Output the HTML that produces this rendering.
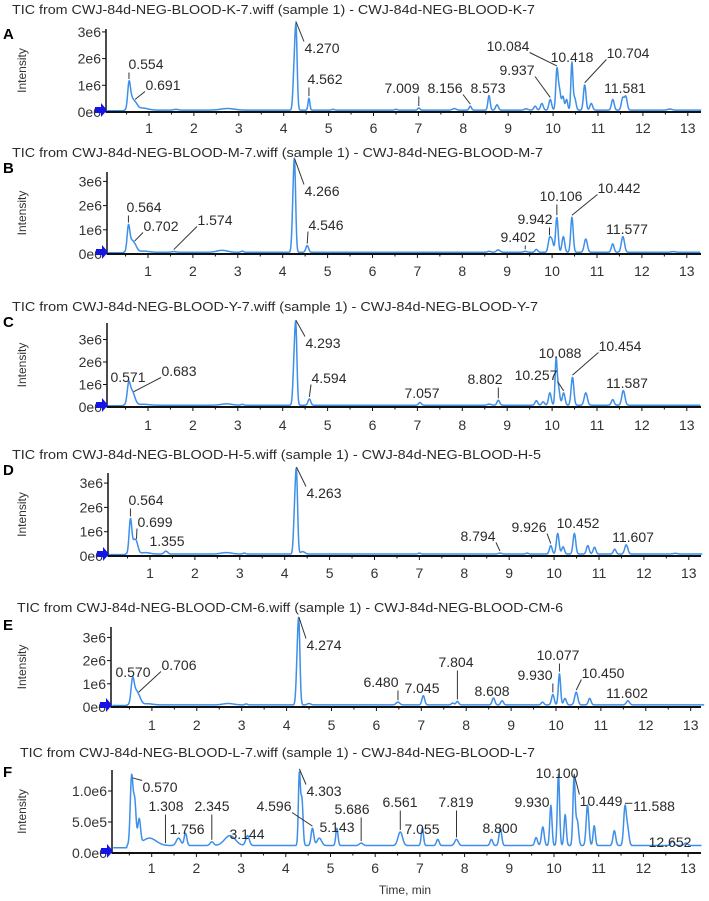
<!DOCTYPE html>
<html><head><meta charset="utf-8"><title>TIC chromatograms</title>
<style>
html,body{margin:0;padding:0;background:#fff;}
svg{display:block;font-family:"Liberation Sans",Arial,sans-serif;}
</style></head>
<body>
<svg id="chart" width="709" height="901" viewBox="0 0 709 901" xmlns="http://www.w3.org/2000/svg"></svg>
<script>
// ---------- DATA ----------
const panelIds = ["A","B","C","D","E","F"];
const sampleNames = ["K-7","M-7","Y-7","H-5","CM-6","L-7"];
const xTickValues = [1,2,3,4,5,6,7,8,9,10,11,12,13];
const yTickValuesStd = [0,1,2,3];
const yTickLabelsStd = ["0e0","1e6","2e6","3e6"];
const yTickValuesF = [0,0.5,1.0];
const yTickLabelsF = ["0.0e0","5.0e5","1.0e6"];
const baselineLevels = [0.07,0.07,0.08,0.08,0.09,0.12];
// peaks: [retention time (min), height (1e6 counts), width sigma (min)]
const peaksA = [[0.554,0.95,0.03],[0.61,0.35,0.04],[0.691,0.25,0.05],[0.85,0.08,0.12],[1.6,0.03,0.05],[2.75,0.06,0.15],[4.23,1.3,0.025],[4.275,2.95,0.025],[4.562,0.45,0.02],[5.1,0.03,0.03],[6.5,0.03,0.03],[7.009,0.08,0.025],[7.8,0.06,0.04],[8.156,0.15,0.025],[8.573,0.55,0.025],[8.75,0.2,0.03],[9.4,0.05,0.04],[9.6,0.15,0.03],[9.75,0.25,0.03],[9.937,0.4,0.03],[10.084,1.45,0.025],[10.14,0.75,0.03],[10.22,0.5,0.025],[10.3,0.4,0.025],[10.418,1.75,0.022],[10.48,0.45,0.03],[10.704,0.95,0.028],[10.85,0.25,0.03],[11.33,0.4,0.03],[11.55,0.45,0.03],[11.62,0.5,0.03],[12.6,0.04,0.05]];
const peaksB = [[0.564,1.05,0.03],[0.63,0.35,0.04],[0.702,0.3,0.05],[0.9,0.05,0.12],[1.574,0.03,0.05],[2.65,0.08,0.12],[3.1,0.05,0.03],[4.23,1.5,0.025],[4.266,3.25,0.025],[4.546,0.28,0.03],[8.6,0.04,0.04],[8.8,0.1,0.04],[9.402,0.04,0.04],[9.65,0.12,0.03],[9.942,0.55,0.03],[10.0,0.45,0.03],[10.106,1.45,0.028],[10.25,0.65,0.03],[10.442,1.45,0.028],[10.75,0.55,0.035],[11.35,0.35,0.03],[11.577,0.65,0.035],[12.7,0.03,0.05]];
const peaksC = [[0.571,0.95,0.035],[0.64,0.35,0.04],[0.683,0.3,0.05],[0.9,0.04,0.12],[2.75,0.06,0.12],[3.1,0.04,0.03],[4.25,1.5,0.025],[4.293,3.35,0.025],[4.594,0.28,0.03],[7.057,0.12,0.03],[8.6,0.05,0.04],[8.802,0.22,0.03],[9.65,0.2,0.03],[9.8,0.15,0.03],[9.95,0.55,0.03],[10.088,1.95,0.022],[10.14,0.8,0.03],[10.257,0.55,0.03],[10.454,1.25,0.03],[10.75,0.55,0.035],[11.35,0.25,0.03],[11.587,0.65,0.035]];
const peaksD = [[0.564,1.4,0.03],[0.64,0.4,0.04],[0.699,0.4,0.04],[0.9,0.06,0.1],[1.355,0.12,0.04],[2.7,0.06,0.12],[3.1,0.04,0.03],[4.22,1.5,0.025],[4.263,3.15,0.025],[4.4,0.1,0.05],[7.0,0.04,0.03],[8.794,0.04,0.04],[9.4,0.04,0.03],[9.926,0.35,0.03],[10.08,0.85,0.03],[10.2,0.3,0.03],[10.452,0.85,0.03],[10.75,0.35,0.03],[10.9,0.28,0.03],[11.35,0.2,0.03],[11.607,0.38,0.035],[12.7,0.03,0.05]];
const peaksE = [[0.57,1.1,0.035],[0.64,0.4,0.04],[0.706,0.35,0.05],[0.9,0.05,0.12],[2.7,0.06,0.12],[3.1,0.04,0.03],[4.235,1.5,0.025],[4.274,3.25,0.025],[4.5,0.06,0.04],[6.48,0.12,0.04],[7.045,0.4,0.03],[7.7,0.08,0.03],[7.804,0.15,0.03],[8.608,0.3,0.03],[8.8,0.18,0.03],[9.7,0.12,0.03],[9.93,0.45,0.03],[10.077,1.35,0.025],[10.2,0.28,0.03],[10.45,0.55,0.035],[10.75,0.28,0.03],[11.602,0.18,0.035]];
const peaksF = [[0.55,1.1,0.03],[0.62,0.7,0.03],[0.72,0.4,0.03],[0.95,0.12,0.15],[1.6,0.12,0.05],[1.756,0.2,0.03],[2.345,0.06,0.04],[2.75,0.16,0.12],[3.144,0.16,0.04],[4.303,1.15,0.022],[4.36,0.75,0.025],[4.596,0.28,0.03],[4.75,0.12,0.05],[5.143,0.28,0.025],[5.686,0.04,0.04],[6.561,0.22,0.05],[7.055,0.28,0.025],[7.4,0.1,0.03],[7.819,0.1,0.04],[8.6,0.1,0.03],[8.8,0.28,0.03],[9.6,0.13,0.03],[9.75,0.3,0.03],[9.93,0.65,0.025],[10.1,1.15,0.025],[10.25,0.5,0.025],[10.449,1.1,0.025],[10.52,0.4,0.03],[10.75,0.65,0.03],[10.9,0.32,0.025],[11.35,0.24,0.03],[11.588,0.62,0.03],[11.65,0.25,0.03],[12.652,0.07,0.04],[12.95,0.04,0.04]];
const allPeaks = [peaksA,peaksB,peaksC,peaksD,peaksE,peaksF];
// annotations: [time, text]
const annA = [[0.554,"0.554"],[0.691,"0.691"],[4.270,"4.270"],[4.562,"4.562"],[7.009,"7.009"],[8.156,"8.156"],[8.573,"8.573"],[9.937,"9.937"],[10.084,"10.084"],[10.418,"10.418"],[10.704,"10.704"],[11.581,"11.581"]];
const annB = [[0.564,"0.564"],[0.702,"0.702"],[1.574,"1.574"],[4.266,"4.266"],[4.546,"4.546"],[9.402,"9.402"],[9.942,"9.942"],[10.106,"10.106"],[10.442,"10.442"],[11.577,"11.577"]];
const annC = [[0.571,"0.571"],[0.683,"0.683"],[4.293,"4.293"],[4.594,"4.594"],[7.057,"7.057"],[8.802,"8.802"],[10.257,"10.257"],[10.088,"10.088"],[10.454,"10.454"],[11.587,"11.587"]];
const annD = [[0.564,"0.564"],[0.699,"0.699"],[1.355,"1.355"],[4.263,"4.263"],[8.794,"8.794"],[9.926,"9.926"],[10.452,"10.452"],[11.607,"11.607"]];
const annE = [[0.570,"0.570"],[0.706,"0.706"],[4.274,"4.274"],[6.480,"6.480"],[7.045,"7.045"],[7.804,"7.804"],[8.608,"8.608"],[9.930,"9.930"],[10.077,"10.077"],[10.450,"10.450"],[11.602,"11.602"]];
const annF = [[0.570,"0.570"],[1.308,"1.308"],[1.756,"1.756"],[2.345,"2.345"],[3.144,"3.144"],[4.596,"4.596"],[4.303,"4.303"],[5.143,"5.143"],[5.686,"5.686"],[6.561,"6.561"],[7.055,"7.055"],[7.819,"7.819"],[8.800,"8.800"],[9.930,"9.930"],[10.100,"10.100"],[10.449,"10.449"],[11.588,"11.588"],[12.652,"12.652"]];
const allAnn = [annA,annB,annC,annD,annE,annF];

// ---------- LAYOUT (pixel geometry, not data) ----------
const geom = [
 {title:10, letter:34, ax:106, x0:104.1, unit:44.9, top:29, base:112, ppu:26.7, tl:128, tx:12, tw:523},
 {title:153,letter:168,ax:107, x0:103.1, unit:44.9, top:172,base:254, ppu:24.2, tl:271, tx:12, tw:531},
 {title:307,letter:322,ax:107, x0:103.1, unit:44.9, top:323,base:407, ppu:22.5, tl:425, tx:12, tw:526},
 {title:455,letter:470,ax:108, x0:105.1, unit:44.9, top:473,base:556, ppu:24.3, tl:573, tx:12, tw:529},
 {title:608,letter:625,ax:111, x0:107.0, unit:44.9, top:627,base:707, ppu:23.2, tl:725, tx:17, tw:546},
 {title:753,letter:772,ax:112, x0:107.0, unit:44.7, top:770,base:853, ppu:62,   tl:868, tx:20, tw:515}
];
const labelPos = [
 [[146,64],[163,85],[322,48],[325,79],[402,88],[445,88],[488,88],[517,70],[508,46],[572,57],[628,53],[625,88]],
 [[144,207],[161,226],[215,220],[322,191],[326,225],[518,237],[535,219],[561,196],[619,188],[627,229]],
 [[128,377],[179,371],[323,343],[329,378],[422,393],[485,379],[536,375],[560,353],[620,346],[627,383]],
 [[146,500],[155,522],[167,541],[324,493],[478,536],[529,527],[578,523],[633,537]],
 [[133,672],[179,665],[324,645],[381,682],[422,688],[456,662],[492,691],[535,675],[558,655],[603,673],[627,693]],
 [[160,787],[166,806],[187,829],[212,806],[247,834],[274,806],[324,791],[337,827],[352,809],[400,802],[422,829],[456,802],[500,828],[532,802],[557,773],[601,801],[654,806],[670,842]]
];

const NS = "http://www.w3.org/2000/svg";
const svg = document.getElementById("chart");
function mk(tag, attrs, parent){
  const e = document.createElementNS(NS, tag);
  for (const k in attrs) e.setAttribute(k, attrs[k]);
  (parent||svg).appendChild(e);
  return e;
}
function signal(peaks, base, t){
  let v = base;
  if (t < 0.45) v = base*0.7;
  for (const p of peaks){ const d=(t-p[0])/p[2]; if (Math.abs(d)<6) v += p[1]*Math.exp(-0.5*d*d); }
  return v;
}

panelIds.forEach((pid, i) => {
  const g = geom[i];
  const peaks = allPeaks[i];
  const xS = t => g.x0 + t*g.unit;
  const yS = v => g.base - v*g.ppu;
  const grp = mk("g", {});
  
  

  const title = mk("text", {x:g.tx, y:g.title+4, "font-size":13, fill:"#2a2a2a", textLength:g.tw, lengthAdjust:"spacingAndGlyphs"}, grp);
  title.textContent = "TIC from CWJ-84d-NEG-BLOOD-" + sampleNames[i] + ".wiff (sample 1) - CWJ-84d-NEG-BLOOD-" + sampleNames[i];
  
  

  const letter = mk("text", {x:3, y:g.letter+5, "font-size":15, "font-weight":"bold", fill:"#000"}, grp);
  letter.textContent = pid;
  
  

  const midY = (g.top+g.base)/2;
  const yl = mk("text", {x:0, y:0, "font-size":12, fill:"#333", "text-anchor":"middle", transform:`translate(26,${midY}) rotate(-90)`}, grp);
  yl.textContent = "Intensity";
  
  

  let d = "";
  for (let k=0; k<=1330; k++){
    const t = k/100;
    const x = xS(t); if (x < g.ax+1) continue;
    d += (d ? "L" : "M") + x.toFixed(2) + "," + yS(signal(peaks, baselineLevels[i], t)).toFixed(2);
  }
  const tr = mk("path", {d:d, fill:"none", stroke:"#3d8fe8", "stroke-width":1.5, "stroke-linejoin":"round"}, grp);
  
  

  const xa = mk("line", {x1:g.ax, y1:g.base, x2:701, y2:g.base, stroke:"#111", "stroke-width":2}, grp);
  
  
  const ya = mk("line", {x1:g.ax, y1:g.top, x2:g.ax, y2:g.base, stroke:"#111", "stroke-width":1.5}, grp);
  
  

  xTickValues.forEach(v => {
    const x = xS(v);
    mk("line", {x1:x, y1:g.base, x2:x, y2:g.base+4, stroke:"#111", "stroke-width":1}, grp);
    mk("line", {x1:xS(v-0.5), y1:g.base, x2:xS(v-0.5), y2:g.base+2.5, stroke:"#111", "stroke-width":1}, grp);
    const tl = mk("text", {x:x, y:g.tl+5, "font-size":14, fill:"#333", "text-anchor":"middle"}, grp);
    tl.textContent = String(v);
    
    
  });
  const yv = i===5 ? yTickValuesF : yTickValuesStd;
  const ylb = i===5 ? yTickLabelsF : yTickLabelsStd;
  yv.forEach((v, k) => {
    const y = yS(v);
    mk("line", {x1:g.ax-4, y1:y, x2:g.ax, y2:y, stroke:"#111", "stroke-width":1}, grp);
    const t = mk("text", {x:g.ax-5, y:y+5, "font-size":14, fill:"#333", "text-anchor":"end"}, grp);
    t.textContent = ylb[k];
    
    
  });
  const mkr = mk("path", {d:`M${g.ax-11},${g.base-5} L${g.ax-5},${g.base-5} L${g.ax-5},${g.base-9} L${g.ax+1},${g.base-2} L${g.ax-5},${g.base+5} L${g.ax-5},${g.base+1} L${g.ax-11},${g.base+1} Z`, fill:"#1414e6"}, grp);
  
  

  allAnn[i].forEach((a, k) => {
    const [lx, ly] = labelPos[i][k];
    const px = xS(a[0]);
    const py = yS(signal(peaks, baselineLevels[i], a[0])) - 2;
    const w = a[1].length*7.2, h = 13;
    let ex = Math.max(lx-w/2, Math.min(px, lx+w/2));
    let ey = Math.max(ly-h/2, Math.min(py, ly+h/2));
    if (Math.abs(px-lx) <= w/2) { ex = px; ey = ly+h/2+2; }
    else if (py > ly+h/2) { ey = ly+h/2; }
    if (py - ey > 1 || Math.abs(px-ex) > 1){
      const ln = mk("line", {x1:ex, y1:ey, x2:px, y2:py, stroke:"#333", "stroke-width":1}, grp);
      
      
    }
    const t = mk("text", {x:lx, y:ly+5, "font-size":14, fill:"#2a2a2a", "text-anchor":"middle"}, grp);
    t.textContent = a[1];
    
    
  });
});

const xt = mk("text", {x:405, y:894, "font-size":12, fill:"#333", "text-anchor":"middle"});
xt.textContent = "Time, min";


</script>
</body></html>
